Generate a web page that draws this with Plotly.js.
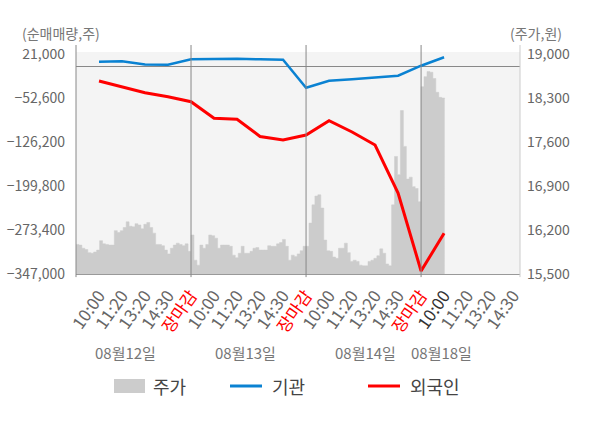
<!DOCTYPE html>
<html>
<head>
<meta charset="utf-8">
<script src="https://cdn.plot.ly/plotly-3.0.1.min.js"></script>
<style>
  html, body { margin: 0; padding: 0; background: #fff; }
  #chart { width: 600px; height: 428px; }
</style>
</head>
<body>
<div id="chart"></div>
<script>
// 주가 (minute samples, one array per trading day)
var PRICE_0812 = [15970,15960,15910,15890,15840,15830,15850,15880,16030,15980,15970,15960,15960,16190,16160,16190,16240,16330,16260,16250,16300,16280,16220,16290,16320,16240,16150,15970,15970,15950,15880,15820,15910,15960,15990,15970,15950,15980,15860];
var PRICE_0813 = [16120,15720,15640,15960,15910,15970,16120,16110,16070,15910,15960,15960,15960,15940,15800,15760,15830,15940,15830,15830,15860,15910,15920,15880,15880,15880,15950,15940,15940,15980,16000,16050,15940,15720,15800,15780,15820,15870,15940];
var PRICE_0814 = [15940,16310,16600,16740,16760,16550,16040,15870,15860,15770,15750,15910,15910,15990,15840,15700,15720,15700,15640,15630,15630,15700,15720,15750,15790,15900,15830,15660,15630,16600,17370,17080,18100,17530,17010,17040,16890,16860,16650];
var PRICE_0818 = [18480,18640,18720,18710,18610,18390,18310,18300,18290];

// 기관 / 외국인 순매매량 at each time label
var INST = [8100, 8800, 3400, 2900, 12100, 12600, 13000, 12100, 11500, -35400, -23700, -21300, -18000, -15300, 1400, 15500];
var FRGN = [-24200, -33700, -43700, -50400, -58800, -86600, -88200, -117000, -122900, -114500, -90600, -109500, -131200, -211500, -342000, -278900];

var DATES = ['08월12일', '08월13일', '08월14일', '08월18일'];
var TIMES = ['10:00', '11:20', '13:20', '14:30', '장마감'];
var NET_TICKS = [-347000, -273400, -199800, -126200, -52600, 21000];
var PRICE_TICKS = [15500, 16200, 16900, 17600, 18300, 19000];

var W = 600, H = 428, ML = 76, MR = 80, MT = 52, MB = 154;
var PW = W - ML - MR, PH = H - MT - MB;
function px(x) { return (x - ML) / PW; }
function py(y) { return (H - MB - y) / PH; }

var days = [PRICE_0812, PRICE_0813, PRICE_0814, PRICE_0818];
var step = 5 / 39;
var priceX = [], priceY = [];
days.forEach(function(arr, d) {
	arr.forEach(function(v, k) {
		priceX.push(5 * d - 1 + k * step);
		priceY.push(v);
	});
});

var tickvals = [], ticktext = [];
DATES.forEach(function(date, d) {
	var n = d < 3 ? 5 : 4;
	for (var t = 0; t < n; t++) {
		tickvals.push(5 * d + t);
		var label = TIMES[t];
		if (label == '장마감') label = '<span style="color:#ff0000">' + label + '</span>';
		else if (d == 3 && t == 0) label = '<span style="color:#333333">' + label + '</span>';
		ticktext.push(label);
	}
});
var lineX = INST.map(function(v, i) { return i; });

var traces = [
	{
		type: 'scatter', mode: 'lines', name: '주가',
		x: priceX, y: priceY, yaxis: 'y',
		line: { color: '#cccccc', width: 0.5, shape: 'hv' },
		fill: 'tozeroy', fillcolor: '#cccccc',
		hoverinfo: 'skip'
	},
	{
		type: 'scatter', mode: 'lines', name: '기관',
		x: lineX, y: INST, yaxis: 'y2',
		line: { color: '#0a82d2', width: 2.5 }
	},
	{
		type: 'scatter', mode: 'lines', name: '외국인',
		x: lineX, y: FRGN, yaxis: 'y2',
		line: { color: '#ff0000', width: 3 }
	}
];

var netPad = 2 * (NET_TICKS[5] - NET_TICKS[0]) / (PH - 2);
var pricePad = 2 * (PRICE_TICKS[5] - PRICE_TICKS[0]) / (PH - 2);
var tickFont = { family: 'Noto Sans CJK KR', size: 14, color: '#666666' };

var shapes = [
	{ type: 'line', xref: 'paper', yref: 'paper', x0: 0, x1: 0, y0: -0.014, y1: py(45), line: { color: '#888888', width: 1 }, layer: 'above' },
	{ type: 'line', xref: 'paper', yref: 'paper', x0: 1, x1: 1, y0: -0.014, y1: py(45), line: { color: '#cccccc', width: 1 }, layer: 'above' }
];
[4, 9, 14].forEach(function(v) {
	shapes.push({ type: 'line', xref: 'x', yref: 'paper', x0: v, x1: v, y0: -0.014, y1: py(45), line: { color: '#888888', width: 1 }, layer: 'above' });
});
// legend
shapes.push({ type: 'rect', xref: 'paper', yref: 'paper', x0: px(114), x1: px(145), y0: py(393), y1: py(379), fillcolor: '#cccccc', line: { width: 0 } });
shapes.push({ type: 'line', xref: 'paper', yref: 'paper', x0: px(230), x1: px(262), y0: py(386), y1: py(386), line: { color: '#0a82d2', width: 3 } });
shapes.push({ type: 'line', xref: 'paper', yref: 'paper', x0: px(368), x1: px(400), y0: py(386), y1: py(386), line: { color: '#ff0000', width: 3 } });

var legFont = { family: 'Noto Sans CJK KR', size: 18, color: '#444444' };
var annFont = { family: 'Noto Sans CJK KR', size: 14, color: '#777777' };
var dateFont = { family: 'Noto Sans CJK KR', size: 15, color: '#777777' };
var annotations = [
	{ xref: 'paper', yref: 'paper', x: px(20), y: py(33), xanchor: 'left', yanchor: 'middle', text: '(순매매량,주)', showarrow: false, font: annFont },
	{ xref: 'paper', yref: 'paper', x: px(508), y: py(33), xanchor: 'left', yanchor: 'middle', text: '(주가,원)', showarrow: false, font: annFont },
	{ xref: 'paper', yref: 'paper', x: px(151), y: py(386), xanchor: 'left', yanchor: 'middle', text: '주가', showarrow: false, font: legFont },
	{ xref: 'paper', yref: 'paper', x: px(270), y: py(386), xanchor: 'left', yanchor: 'middle', text: '기관', showarrow: false, font: legFont },
	{ xref: 'paper', yref: 'paper', x: px(408), y: py(386), xanchor: 'left', yanchor: 'middle', text: '외국인', showarrow: false, font: legFont }
];
var dateX = [125, 245, 365, 441];
DATES.forEach(function(date, d) {
	annotations.push({ xref: 'paper', yref: 'paper', x: px(dateX[d]), y: py(352), xanchor: 'center', yanchor: 'middle', text: date, showarrow: false, font: dateFont });
});

var layout = {
	width: W, height: H,
	margin: { l: ML, r: MR, t: MT, b: MB, pad: 0 },
	paper_bgcolor: '#ffffff',
	plot_bgcolor: '#f4f4f4',
	font: { family: 'Noto Sans CJK KR', color: '#666666' },
	showlegend: false,
	xaxis: {
		range: [-1, 18.3], tickmode: 'array', tickvals: tickvals, ticktext: ticktext,
		tickangle: -55, tickfont: { family: 'Noto Sans CJK KR', size: 17, color: '#666666' },
		showgrid: false, zeroline: false, showline: true, linecolor: '#999999', linewidth: 1,
		ticks: '', ticklabelstandoff: 4
	},
	yaxis: {
		side: 'right', range: [PRICE_TICKS[0], PRICE_TICKS[5] + pricePad],
		tickmode: 'array', tickvals: PRICE_TICKS, tickformat: ',d', tickfont: tickFont,
		showgrid: false, zeroline: false, showline: false, ticks: '', ticklabelstandoff: 6
	},
	yaxis2: {
		side: 'left', overlaying: 'y', range: [NET_TICKS[0], NET_TICKS[5] + netPad],
		tickmode: 'array', tickvals: NET_TICKS, tickformat: ',d', tickfont: tickFont,
		showgrid: false, zeroline: true, zerolinecolor: '#888888', zerolinewidth: 1,
		showline: false, ticks: '', ticklabelstandoff: 10
	},
	yaxis3: {
		overlaying: 'y', range: [PRICE_TICKS[0], PRICE_TICKS[5] + pricePad],
		tickmode: 'array', tickvals: PRICE_TICKS.slice(1, 5),
		showticklabels: false, showgrid: true, gridcolor: '#dddddd', gridwidth: 1,
		zeroline: false, ticks: ''
	},
	shapes: shapes,
	annotations: annotations
};

Plotly.newPlot('chart', traces, layout, { displayModeBar: false, staticPlot: true });
</script>
</body>
</html>
